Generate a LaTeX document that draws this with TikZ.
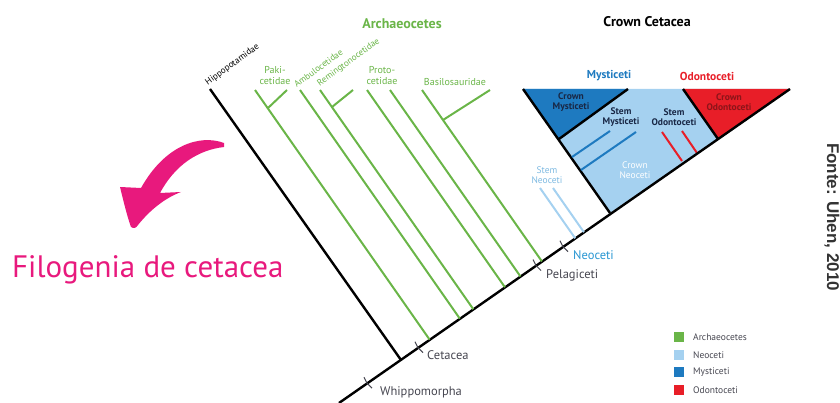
\documentclass[tikz,border=0pt]{standalone}
\usepackage{fontspec}
\setmainfont{PT Sans}
\newfontfamily\sourcefont{Liberation Sans}

\definecolor{archgreen}{RGB}{106,181,72}
\definecolor{neolight}{RGB}{165,209,240}
\definecolor{neotext}{RGB}{125,185,225}
\definecolor{neoblue}{RGB}{40,150,210}
\definecolor{mystblue}{RGB}{30,122,192}
\definecolor{odonred}{RGB}{232,30,40}
\definecolor{darkred}{RGB}{140,20,25}
\definecolor{navytext}{RGB}{25,40,70}
\definecolor{labelgray}{RGB}{70,70,80}
\definecolor{filopink}{RGB}{232,25,125}

\begin{document}
\begin{tikzpicture}[x=1pt, y=-1pt,
    trunk/.style={line width=2.4pt, black},
    archline/.style={line width=2pt, archgreen},
    tickmark/.style={line width=1pt, labelgray},
    tiplabel/.style={font=\fontsize{10}{11}\selectfont, text=archgreen, align=center, inner sep=0pt},
    slantlabel/.style={font=\fontsize{9}{9}\selectfont, text=archgreen, rotate=36, anchor=south west, inner sep=0pt},
    cladelabel/.style={font=\fontsize{12.5}{13}\selectfont, text=labelgray, anchor=west, inner sep=0pt},
    boxlabel/.style={font=\fontsize{9.5}{10}\selectfont\bfseries, align=center, inner sep=0pt},
    keybox/.style={minimum size=10pt, inner sep=0pt},
    keylabel/.style={font=\fontsize{9.5}{10}\selectfont, text=labelgray, anchor=west, inner sep=0pt}]
    \useasboundingbox (0,0) rectangle (840,403);

    % crown neoceti block
    \coordinate (crownL) at (523,89);
    \coordinate (crownR) at (790,89);
    \coordinate (crownB) at (610,213);
    \coordinate (mystJ) at (559,139);
    \coordinate (mystT) at (628,89);
    \coordinate (odonT) at (683,89);
    \coordinate (odonJ) at (718,139);
    \fill[neolight] (crownL) -- (crownR) -- (crownB) -- cycle;
    \fill[mystblue] (crownL) -- (mystT) -- (mystJ) -- cycle;
    \fill[odonred] (odonT) -- (crownR) -- (odonJ) -- cycle;
    \draw[trunk] (crownL) -- (crownB);
    \draw[trunk] (mystJ) -- (mystT);
    \draw[trunk] (odonT) -- (odonJ);

    % stem mysticeti and stem odontoceti
    \draw[line width=2pt, mystblue] (572,157) -- (610,131);
    \draw[line width=2pt, mystblue] (581,170) -- (636,132);
    \draw[line width=2pt, odonred] (662,132) -- (682,161);
    \draw[line width=2pt, odonred] (682,131) -- (697,153);

    % main trunk
    \coordinate (root) at (339,403);
    \draw[trunk] (root) -- (crownR);

    % hippos
    \coordinate (hippo-top) at (210,89);
    \coordinate (hippo-base) at (401,360);
    \draw[trunk] (hippo-top) -- (hippo-base);

    % archaeocetes
    \foreach \n/\tx/\bx/\by in {paki/255/429.6/339.6, ambulo/300/459.8/318.6,
        remington/320/473.3/309.2, protoA/367/504.9/287.2,
        protoB/390/520.4/276.4, basilo/422/541.9/261.4} {
        \coordinate (\n-top) at (\tx,90);
        \coordinate (\n-base) at (\bx,\by);
        \draw[archline] (\n-top) -- (\n-base);
    }
    \draw[archline] (268,108) -- (287,90);
    \draw[archline] (332,107) -- (353,90);
    \draw[archline] (443,120) -- (490,90);

    % stem neoceti
    \draw[line width=2pt, neolight] (540,188) -- (575.2,238.3);
    \draw[line width=2pt, neolight] (553,188) -- (583.9,232.2);

    % ticks on the trunk
    \foreach \n/\px/\py in {whippo/367/383.2, cetacea/418/347.7, pelagi/536/265.5, neoceti/563/246.7} {
        \coordinate (\n) at (\px,\py);
        \draw[tickmark] ([shift={(-3,-6)}]\n) -- (\n) -- ([shift={(5,5)}]\n);
    }
    \node[cladelabel] (whippo-lbl) at (380,392) {Whippomorpha};
    \node[cladelabel] (cetacea-lbl) at (427,355) {Cetacea};
    \node[cladelabel] (pelagi-lbl) at (546,275) {Pelagiceti};
    \node[cladelabel, text=neoblue] (neoceti-lbl) at (573,255) {Neoceti};

    % tip labels
    \node[slantlabel, text=black] (hippo-lbl) at (209,87) {Hippopotamidae};
    \node[slantlabel] (ambulo-lbl) at (297,88) {Ambulocetidae};
    \node[slantlabel] (remington-lbl) at (321,88) {Remingtonocetidae};
    \node[tiplabel] (paki-lbl) at (275,76) {Paki-\\cetidae};
    \node[tiplabel] (proto-lbl) at (382,76) {Proto-\\cetidae};
    \node[tiplabel] (basilo-lbl) at (455,82) {Basilosauridae};

    % group headers
    \node[font=\fontsize{14}{14}\selectfont\bfseries, text=archgreen] (arch-hd) at (402,24) {Archaeocetes};
    \node[font=\fontsize{14}{14}\selectfont\bfseries] (crown-hd) at (647,22) {Crown Cetacea};
    \node[font=\fontsize{11.5}{12}\selectfont\bfseries, text=mystblue] (myst-hd) at (609,76) {Mysticeti};
    \node[font=\fontsize{11.5}{12}\selectfont\bfseries, text=odonred] (odon-hd) at (707,76) {Odontoceti};

    % box labels
    \node[boxlabel, text=navytext] (crownmyst) at (571,102) {Crown\\Mysticeti};
    \node[boxlabel, text=navytext] (stemmyst) at (621,117) {Stem\\Mysticeti};
    \node[boxlabel, text=navytext] (stemodon) at (674,117) {Stem\\Odontoceti};
    \node[boxlabel, text=darkred] (crownodon) at (729,102) {Crown\\Odontoceti};
    \node[boxlabel, font=\fontsize{9.5}{10}\selectfont, text=white] (crownneo) at (635,170) {Crown\\Neoceti};
    \node[boxlabel, font=\fontsize{9.5}{10}\selectfont, text=neotext] (stemneo) at (547,175) {Stem\\Neoceti};

    % legend
    \foreach \n/\c/\y/\t in {archkey/archgreen/337/Archaeocetes, neokey/neolight/355/Neoceti,
        mystkey/mystblue/372/Mysticeti, odonkey/odonred/390/Odontoceti} {
        \node[keybox, fill=\c] (\n) at (679,\y) {};
        \node[keylabel] at (693,\y) {\t};
    }

    % pink note
    \fill[filopink] (224,143) .. controls (200,134) and (165,145) .. (141,188)
        -- (120,187) .. controls (124,203) and (127,216) .. (131,227)
        .. controls (134,229) and (136,228) .. (138,225)
        .. controls (150,210) and (165,198) .. (181,192)
        -- (160,193) .. controls (175,165) and (198,150) .. (224,147) -- cycle;
    \node[font=\fontsize{31}{31}\selectfont, text=filopink, anchor=west, inner sep=0pt] (filo) at (12,270) {Filogenia de cetacea};

    % source
    \node[font=\sourcefont\fontsize{17}{17}\selectfont\bfseries, text=black!80, rotate=-90] (fonte) at (832,217) {Fonte: Uhen, 2010};
\end{tikzpicture}
\end{document}
